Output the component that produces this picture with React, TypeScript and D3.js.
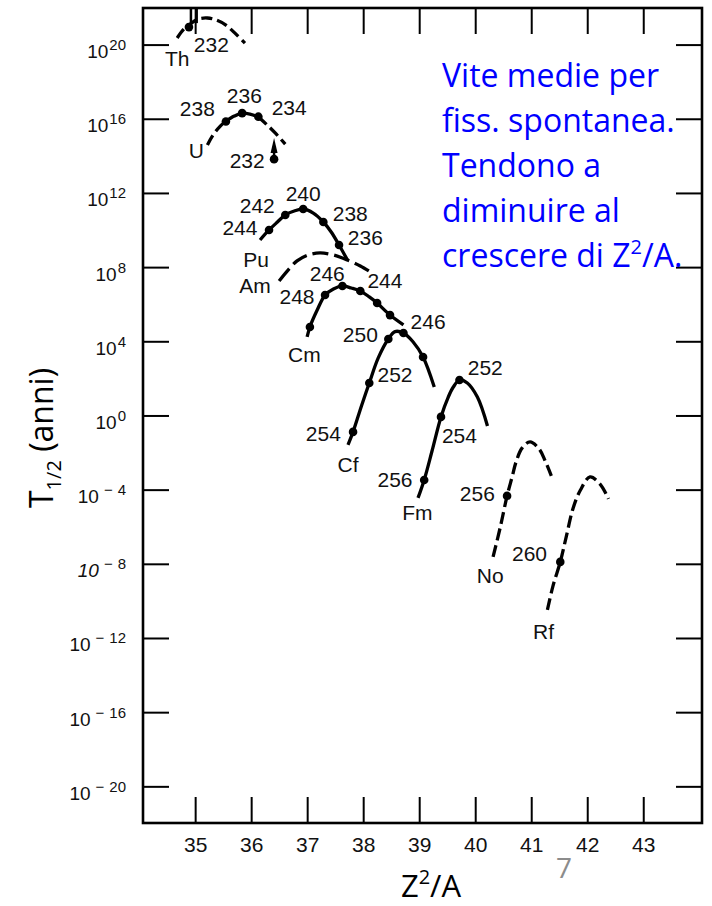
import React from 'react';
import * as d3 from 'd3';

// ---------- axes ----------
const xDomain = [34.06, 44.04];
const yDomainExp = [-21.95, 22.0];
const xTickValues = [35, 36, 37, 38, 39, 40, 41, 42, 43];
const yTickExponents = [20, 16, 12, 8, 4, 0, -4, -8, -12, -16, -20];

// ---------- curves (Z^2/A, log10 T1/2 in years) ----------
const thZ2A = [34.67, 34.79, 34.9, 35.04, 35.21, 35.37, 35.54, 35.72, 35.88];
const thLogT = [20.38, 20.86, 21.13, 21.4, 21.46, 21.35, 21.08, 20.59, 20.11];
const thDotZ2A = [34.88];
const thDotLogT = [20.97];

const uZ2A = [35.21, 35.31, 35.44, 35.54, 35.69, 35.83, 35.97, 36.12, 36.26, 36.42, 36.6];
const uLogT = [14.61, 15.15, 15.63, 15.9, 16.17, 16.33, 16.28, 16.12, 15.74, 15.26, 14.66];
const uDotZ2A = [35.54, 35.83, 36.12];
const uDotLogT = [15.88, 16.33, 16.14];
const u232Z2A = [36.4];
const u232LogT = [13.85];
const u232ArrowTipLogT = [14.99];

const puZ2A = [36.15, 36.31, 36.46, 36.6, 36.76, 36.92, 37.1, 37.28, 37.42, 37.56, 37.71];
const puLogT = [9.49, 10.03, 10.46, 10.84, 11.05, 11.16, 10.94, 10.46, 9.92, 9.22, 8.41];
const puDotZ2A = [36.31, 36.6, 36.92, 37.28, 37.56];
const puDotLogT = [10.03, 10.84, 11.16, 10.46, 9.22];

const amZ2A = [36.49, 36.65, 36.81, 37.01, 37.22, 37.46, 37.71, 37.94, 38.15];
const amLogT = [7.28, 7.87, 8.36, 8.68, 8.79, 8.68, 8.41, 8.09, 7.71];

const cmZ2A = [36.99, 37.04, 37.17, 37.31, 37.46, 37.62, 37.78, 37.94, 38.1, 38.24, 38.47, 38.71];
const cmLogT = [4.26, 4.8, 5.71, 6.52, 6.85, 7.01, 6.9, 6.74, 6.42, 6.09, 5.44, 4.91];
const cmDotZ2A = [37.04, 37.31, 37.62, 37.94, 38.24, 38.47];
const cmDotLogT = [4.8, 6.52, 7.01, 6.74, 6.09, 5.44];

const cfZ2A = [37.72, 37.81, 37.96, 38.1, 38.26, 38.44, 38.56, 38.71, 38.88, 39.06, 39.26];
const cfLogT = [-1.56, -0.86, 0.54, 1.78, 3.13, 4.15, 4.55, 4.47, 4.0, 3.18, 1.56];
const cfDotZ2A = [37.81, 38.1, 38.44, 38.71, 39.06];
const cfDotLogT = [-0.86, 1.78, 4.15, 4.47, 3.18];

const fmZ2A = [38.97, 39.08, 39.22, 39.38, 39.51, 39.6, 39.71, 39.85, 40.03, 40.21];
const fmLogT = [-4.42, -3.45, -1.89, -0.05, 1.02, 1.56, 1.94, 1.78, 1.02, -0.54];
const fmDotZ2A = [39.08, 39.38, 39.71];
const fmDotLogT = [-3.45, -0.05, 1.94];

const noZ2A = [40.31, 40.44, 40.56, 40.65, 40.72, 40.83, 40.97, 41.13, 41.24, 41.35];
const noLogT = [-7.6, -5.98, -4.31, -3.29, -2.48, -1.72, -1.4, -1.77, -2.42, -3.23];
const noDotZ2A = [40.56];
const noDotLogT = [-4.31];

const rfZ2A = [41.28, 41.38, 41.51, 41.62, 41.74, 41.87, 42.04, 42.22, 42.37];
const rfLogT = [-10.46, -9.16, -7.87, -6.46, -4.96, -3.99, -3.29, -3.67, -4.47];
const rfDotZ2A = [41.51];
const rfDotLogT = [-7.87];

// ---------- labels ----------
const labelTexts = ['Th', '232', 'U', '238', '236', '234', '232', '244', '242', '240', '238', '236', 'Pu', 'Am', '244', '248', '246', 'Cm', '250', '246', '252', '254', 'Cf', '252', '254', '256', 'Fm', '256', 'No', '260', 'Rf'];
const labelZ2A = [34.67, 35.28, 35.01, 35.03, 35.87, 36.67, 35.92, 35.79, 36.1, 36.92, 37.76, 38.03, 36.08, 36.06, 38.38, 36.81, 37.35, 36.94, 37.94, 39.15, 38.56, 37.28, 37.72, 40.17, 39.71, 38.56, 38.96, 40.03, 40.26, 40.96, 41.21];
const labelLogT = [19.3, 20.05, 14.34, 16.6, 17.3, 16.66, 13.75, 10.19, 11.37, 12.02, 10.94, 9.65, 8.46, 7.01, 7.33, 6.42, 7.66, 3.29, 4.42, 5.07, 2.26, -0.92, -2.64, 2.59, -1.08, -3.4, -5.23, -4.2, -8.63, -7.39, -11.64];

const noteLines = ['Vite medie per', 'fiss. spontanea.', 'Tendono a', 'diminuire al'];

type Seg = [number, number, boolean];
const zip = (a: number[], b: number[]) => a.map((v, i) => [v, b[i]] as [number, number]);

export default function App() {
  const L = 143, R = 702, T = 8, B = 823;
  const x = d3.scaleLinear().domain(xDomain).range([L, R]);
  const y = d3.scaleLog().domain([Math.pow(10, yDomainExp[0]), Math.pow(10, yDomainExp[1])]).range([B, T]);
  const Y = (e: number) => y(Math.pow(10, e));
  const line = d3
    .line<[number, number]>()
    .x((d) => x(d[0]))
    .y((d) => Y(d[1]))
    .curve(d3.curveCatmullRom.alpha(0.5));

  const curves: { pts: [number, number][]; segs: Seg[]; dash: string }[] = [
    { pts: zip(thZ2A, thLogT), segs: [[0, 8, true]], dash: '11,5' },
    { pts: zip(uZ2A, uLogT), segs: [[0, 3, true], [3, 7, false], [7, 10, true]], dash: '11,5' },
    { pts: zip(puZ2A, puLogT), segs: [[0, 10, false]], dash: '' },
    { pts: zip(amZ2A, amLogT), segs: [[0, 8, true]], dash: '16,6' },
    { pts: zip(cmZ2A, cmLogT), segs: [[0, 11, false]], dash: '' },
    { pts: zip(cfZ2A, cfLogT), segs: [[0, 10, false]], dash: '' },
    { pts: zip(fmZ2A, fmLogT), segs: [[0, 9, false]], dash: '' },
    { pts: zip(noZ2A, noLogT), segs: [[0, 9, true]], dash: '12,5' },
    { pts: zip(rfZ2A, rfLogT), segs: [[0, 8, true]], dash: '12,5' },
  ];

  const dots: [number, number][] = [
    ...zip(thDotZ2A, thDotLogT),
    ...zip(uDotZ2A, uDotLogT),
    ...zip(u232Z2A, u232LogT),
    ...zip(puDotZ2A, puDotLogT),
    ...zip(cmDotZ2A, cmDotLogT),
    ...zip(cfDotZ2A, cfDotLogT),
    ...zip(fmDotZ2A, fmDotLogT),
    ...zip(noDotZ2A, noDotLogT),
    ...zip(rfDotZ2A, rfDotLogT),
  ];

  const tickLen = 26;
  const sans = '"Liberation Sans", Arial, sans-serif';
  const calib = '"Open Sans", "Noto Sans", sans-serif';

  // U232 arrow
  const ax = x(u232Z2A[0]);
  const ay0 = Y(u232LogT[0]);
  const ay1 = Y(u232ArrowTipLogT[0]);
  // Th arrow
  const tx = x(thDotZ2A[0]) + 2;
  const ty0 = Y(thDotLogT[0]);

  return (
    <svg width={712} height={906} style={{ position: 'absolute', left: 0, top: 0, background: '#fff' }}>
      <defs>
        <clipPath id="plotclip">
          <rect x={L} y={T} width={R - L} height={B - T} />
        </clipPath>
      </defs>
      <rect x={0} y={0} width={712} height={906} fill="#fff" />

      {/* frame */}
      <rect x={L} y={T} width={R - L} height={B - T} fill="none" stroke="#000" strokeWidth={2.6} />

      {/* x ticks bottom & top */}
      {xTickValues.map((v) => (
        <g key={'xt' + v}>
          <line x1={x(v)} x2={x(v)} y1={B} y2={B - tickLen} stroke="#000" strokeWidth={2} />
          <line x1={x(v)} x2={x(v)} y1={T} y2={T + tickLen} stroke="#000" strokeWidth={2} />
          <text x={x(v)} y={852} textAnchor="middle" fontFamily={sans} fontSize={21} fill="#111">
            {v}
          </text>
        </g>
      ))}

      {/* y ticks left & right */}
      {yTickExponents.map((e) => {
        const py = Y(e);
        return (
          <g key={'yt' + e}>
            <line x1={L} x2={L + tickLen} y1={py} y2={py} stroke="#000" strokeWidth={2} />
            <line x1={R} x2={R - tickLen} y1={py} y2={py} stroke="#000" strokeWidth={2} />
            <text x={126} y={py + 13} textAnchor="end" fontFamily={sans} fontSize={19} fill="#111">
              <tspan fontStyle={e === -8 ? 'italic' : 'normal'}>10</tspan>
              {e < 0 ? (
                <>
                  <tspan dx={5} dy={-8} fontSize={15}>−</tspan>
                  <tspan dx={5} fontSize={15}>{Math.abs(e)}</tspan>
                </>
              ) : (
                <tspan dx={1} dy={-8} fontSize={15}>{e}</tspan>
              )}
            </text>
          </g>
        );
      })}

      {/* curves */}
      <g clipPath="url(#plotclip)" fill="none" stroke="#000" strokeWidth={3.3} strokeLinecap="butt">
        {curves.map((c, i) =>
          c.segs.map(([a, b, dashed], j) => (
            <path
              key={i + '-' + j}
              d={line(c.pts.slice(a, b + 1)) || ''}
              strokeDasharray={dashed ? c.dash : undefined}
            />
          ))
        )}
        {/* Th arrow */}
        <line x1={tx} x2={tx} y1={ty0} y2={T} strokeWidth={2.5} />
        <line x1={tx + 6} x2={tx + 6} y1={ty0 - 4} y2={T} strokeWidth={2} />
      </g>

      {/* U232 arrow */}
      <line x1={ax} x2={ax} y1={ay0} y2={ay1 + 8} stroke="#000" strokeWidth={2.5} />
      <path d={`M${ax},${ay1} L${ax - 3.5},${ay1 + 15} L${ax + 3.5},${ay1 + 15} Z`} fill="#000" />

      {/* dots */}
      {dots.map((d, i) => (
        <circle key={'d' + i} cx={x(d[0])} cy={Y(d[1])} r={4.3} fill="#000" />
      ))}

      {/* labels */}
      {labelTexts.map((t, i) => (
        <text
          key={'l' + i}
          x={x(labelZ2A[i])}
          y={Y(labelLogT[i]) + 7.5}
          textAnchor="middle"
          fontFamily={sans}
          fontSize={21}
          fill="#111"
        >
          {t}
        </text>
      ))}

      {/* axis titles */}
      <text transform="translate(53,508) rotate(-90)" fontFamily={calib} fontSize={32} fill="#000">
        T<tspan fontSize={20} dy={8}>1/2</tspan>
        <tspan dy={-8}> (anni)</tspan>
      </text>
      <text x={431} y={897} textAnchor="middle" fontFamily={calib} fontSize={31} fill="#000">
        Z<tspan fontSize={20} dy={-13}>2</tspan>
        <tspan dy={13}>/A</tspan>
      </text>

      {/* slide number */}
      <text x={564} y={878} textAnchor="middle" fontFamily={calib} fontSize={28} fill="#8c8c8c">
        7
      </text>

      {/* note */}
      <g fontFamily={calib} fontSize={32} fill="#0000ff">
        {noteLines.map((s, i) => (
          <text key={'n' + i} x={442} y={87 + i * 45}>
            {s}
          </text>
        ))}
        <text x={442} y={267}>
          crescere di Z<tspan fontSize={20} dy={-13}>2</tspan>
          <tspan dy={13}>/A.</tspan>
        </text>
      </g>
    </svg>
  );
}
